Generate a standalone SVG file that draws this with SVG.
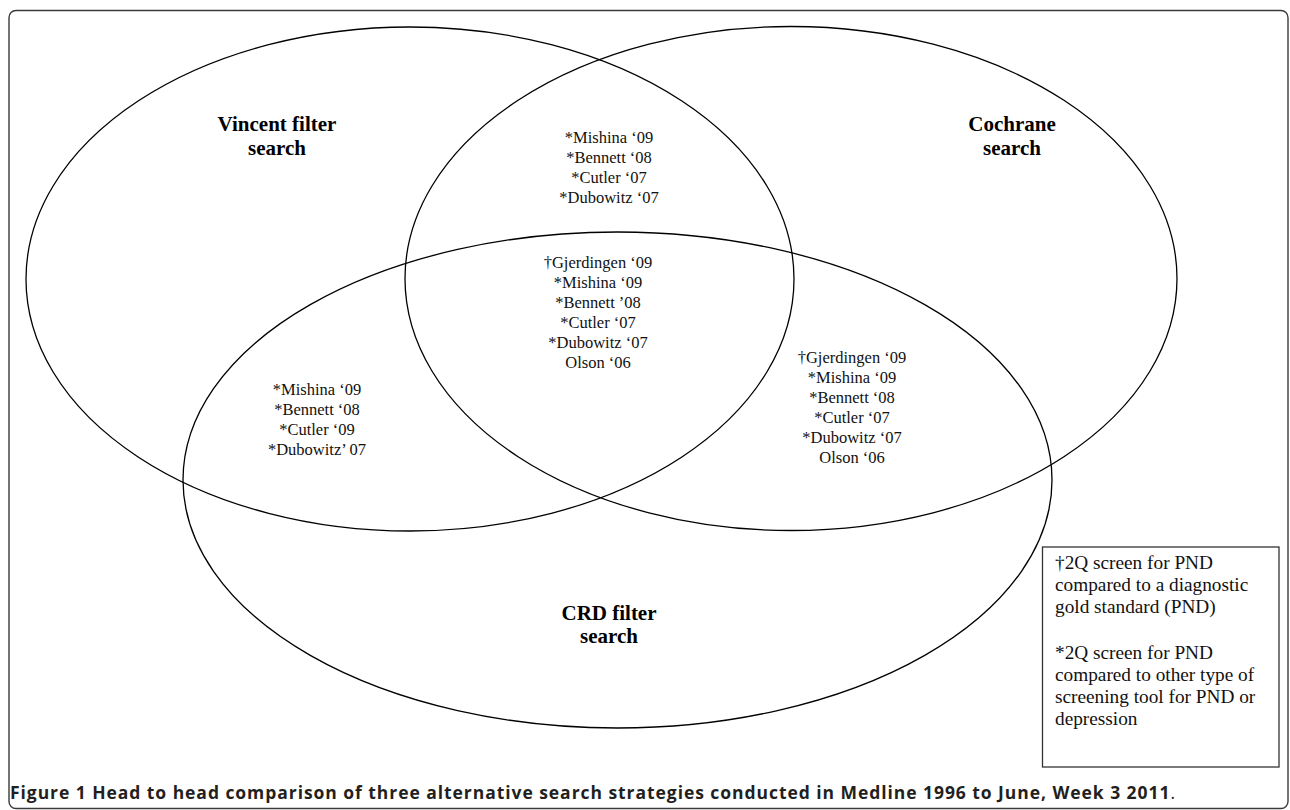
<svg xmlns="http://www.w3.org/2000/svg" width="1290" height="810" viewBox="0 0 1290 810">
<style>
.frame{fill:none;stroke:#3a3a3a;stroke-width:1.4}
.set{fill:none;stroke:#000;stroke-width:1.3}
.lbl{font-family:"Liberation Serif","Times New Roman",serif;font-weight:bold;font-size:21px;fill:#000;text-anchor:middle}
.nm{font-family:"Liberation Serif","Times New Roman",serif;font-size:16.5px;fill:#111;text-anchor:middle}
.lg{font-family:"Liberation Serif","Times New Roman",serif;font-size:19.3px;fill:#111}
.box{fill:none;stroke:#333;stroke-width:1.3}
.cap{font-family:"Open Sans","Liberation Sans",sans-serif;font-size:17.5px;font-weight:bold;fill:#231f20}
</style>
<rect width="1290" height="810" fill="#fff"/>
<rect id="frame" class="frame" x="9" y="10.5" width="1279" height="798" rx="7"/>
<g id="set-vincent">
<ellipse class="set" cx="410" cy="279" rx="384" ry="252"/>
<text class="lbl" x="277" y="131">Vincent filter</text>
<text class="lbl" x="277" y="155">search</text>
</g>
<g id="set-cochrane">
<ellipse class="set" cx="791" cy="278.5" rx="386" ry="252"/>
<text class="lbl" x="1012" y="131">Cochrane</text>
<text class="lbl" x="1012" y="155">search</text>
</g>
<g id="set-crd">
<ellipse class="set" cx="617.5" cy="480" rx="434.5" ry="248"/>
<text class="lbl" x="609" y="620">CRD filter</text>
<text class="lbl" x="609" y="643">search</text>
</g>
<g id="connectors"/>
<g id="region-vincent-cochrane">
<text class="nm" x="609" y="143">*Mishina ‘09</text>
<text class="nm" x="609" y="163">*Bennett ‘08</text>
<text class="nm" x="609" y="183">*Cutler ‘07</text>
<text class="nm" x="609" y="203">*Dubowitz ‘07</text>
</g>
<g id="region-all">
<text class="nm" x="598" y="268">†Gjerdingen ‘09</text>
<text class="nm" x="598" y="288">*Mishina ‘09</text>
<text class="nm" x="598" y="308">*Bennett ’08</text>
<text class="nm" x="598" y="328">*Cutler ‘07</text>
<text class="nm" x="598" y="348">*Dubowitz ‘07</text>
<text class="nm" x="598" y="368">Olson ‘06</text>
</g>
<g id="region-vincent-crd">
<text class="nm" x="317" y="395">*Mishina ‘09</text>
<text class="nm" x="317" y="415">*Bennett ‘08</text>
<text class="nm" x="317" y="435">*Cutler ‘09</text>
<text class="nm" x="317" y="455">*Dubowitz’ 07</text>
</g>
<g id="region-cochrane-crd">
<text class="nm" x="852" y="363">†Gjerdingen ‘09</text>
<text class="nm" x="852" y="383">*Mishina ‘09</text>
<text class="nm" x="852" y="403">*Bennett ‘08</text>
<text class="nm" x="852" y="423">*Cutler ‘07</text>
<text class="nm" x="852" y="443">*Dubowitz ‘07</text>
<text class="nm" x="852" y="463">Olson ‘06</text>
</g>
<g id="legend">
<rect class="box" x="1042.5" y="547" width="236.5" height="220"/>
<text class="lg" x="1055" y="569">†2Q screen for PND</text>
<text class="lg" x="1055" y="591">compared to a diagnostic</text>
<text class="lg" x="1055" y="613">gold standard (PND)</text>
<text class="lg" x="1055" y="659">*2Q screen for PND</text>
<text class="lg" x="1055" y="681">compared to other type of</text>
<text class="lg" x="1055" y="703">screening tool for PND or</text>
<text class="lg" x="1055" y="725">depression</text>
</g>
<g id="caption">
<text class="cap" x="10" y="799" textLength="1165" lengthAdjust="spacing">Figure 1 Head to head comparison of three alternative search strategies conducted in Medline 1996 to June, Week 3 2011<tspan font-weight="normal">.</tspan></text>
</g>
</svg>
